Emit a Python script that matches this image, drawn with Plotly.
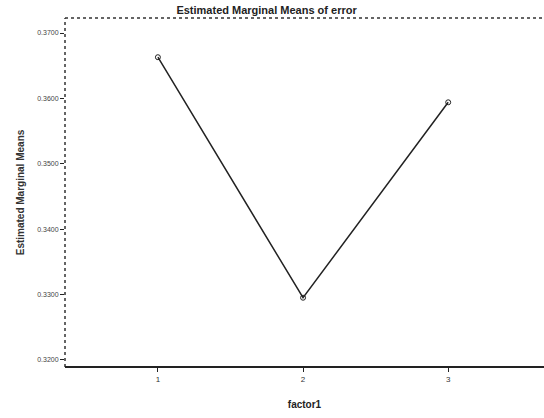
import plotly.graph_objects as go

categories = [1, 2, 3]
means = [0.3663, 0.3295, 0.3594]
tick_vals = [0.32, 0.33, 0.34, 0.35, 0.36, 0.37]
tick_text = ["0.3200", "0.3300", "0.3400", "0.3500", "0.3600", "0.3700"]

fig = go.Figure()
fig.add_trace(go.Scatter(
    x=categories, y=means, mode="lines+markers",
    line=dict(color="#222222", width=1.5),
    marker=dict(symbol="circle-open", size=5, color="#222222", line=dict(width=1)),
    showlegend=False,
))

fig.update_layout(
    width=544, height=418,
    margin=dict(l=65, r=0, t=18, b=51),
    paper_bgcolor="white", plot_bgcolor="white",
    font=dict(family="Liberation Sans", color="#222222"),
    title=dict(text="<b>Estimated Marginal Means of error</b>", x=0.49, xanchor="center",
               y=0.985, yanchor="top", font=dict(size=11, color="#222222")),
    xaxis=dict(range=[0.36, 3.66], tickvals=categories, ticktext=["1", "2", "3"],
               ticks="outside", ticklen=4, tickcolor="#222222", showgrid=False,
               zeroline=False, showline=False,
               tickfont=dict(size=8, color="#333333"),
               title=dict(text="<b>factor1</b>", font=dict(size=10, color="#222222"), standoff=18)),
    yaxis=dict(range=[0.3189, 0.3723], tickvals=tick_vals, ticktext=tick_text,
               ticks="outside", ticklen=4, tickcolor="#222222", showgrid=False,
               zeroline=False, showline=False,
               tickfont=dict(size=7, color="#444444"),
               title=dict(text="<b>Estimated Marginal Means</b>", font=dict(size=10, color="#333333"), standoff=10)),
)
# frame: dotted top and left, solid bottom
fig.add_shape(type="line", xref="paper", yref="paper", x0=0, x1=1, y0=1, y1=1,
              line=dict(color="#333333", width=1.5, dash="dot"))
fig.add_shape(type="line", xref="paper", yref="paper", x0=0, x1=0, y0=0, y1=1,
              line=dict(color="#333333", width=1.5, dash="dot"))
fig.add_shape(type="line", xref="paper", yref="paper", x0=0, x1=1, y0=0, y1=0,
              line=dict(color="#222222", width=2))

fig.write_html("out.html")
